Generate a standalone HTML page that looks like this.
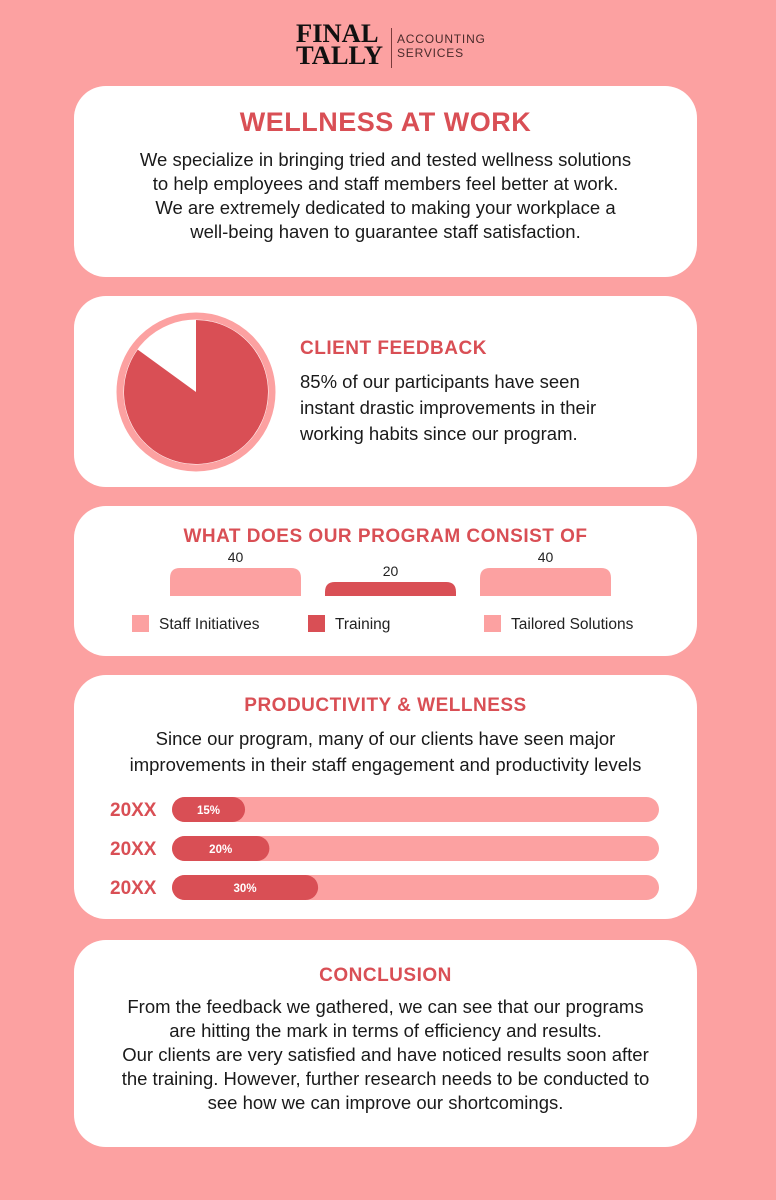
<!DOCTYPE html>
<html><head><meta charset="utf-8"><style>
*{margin:0;padding:0;box-sizing:border-box}
body{width:776px;height:1200px;background:#fca1a1;font-family:"Liberation Sans",sans-serif;position:relative;overflow:hidden;color:#1a1a1a}
.card{position:absolute;left:74px;width:623px;background:#fff;border-radius:32px}
.h{color:#d94f55;font-weight:bold;text-align:center;position:absolute;left:0;width:100%}
.p{position:absolute;text-align:center;left:0;width:100%;font-size:18.5px;line-height:24px}
</style></head><body>
<div style="position:absolute;left:296px;top:24px;width:200px;height:46px">
 <div style="position:absolute;left:0;top:-1px;font-family:'Liberation Serif',serif;font-weight:bold;font-size:26px;line-height:22px;color:#111;transform:scaleX(1.02);transform-origin:left">FINAL<br>TALLY</div>
 <div style="position:absolute;left:95px;top:4px;width:1px;height:40px;background:#7a3b3b"></div>
 <div style="position:absolute;left:101px;top:8px;font-size:12px;line-height:14px;letter-spacing:.8px;color:#4a2b2b">ACCOUNTING<br>SERVICES</div>
</div>

<div class="card" style="top:86px;height:191px">
 <div class="h" style="top:21px;font-size:27px;letter-spacing:.5px">WELLNESS AT WORK</div>
 <div class="p" style="top:62px">We specialize in bringing tried and tested wellness solutions<br>to help employees and staff members feel better at work.<br>We are extremely dedicated to making your workplace a<br>well-being haven to guarantee staff satisfaction.</div>
</div>

<div class="card" style="top:296px;height:191px">
 <svg id="pie" width="180" height="180" style="position:absolute;left:32px;top:6px"></svg>
 <div style="position:absolute;left:226px;top:42px;color:#d94f55;font-weight:bold;font-size:19px;letter-spacing:.5px">CLIENT FEEDBACK</div>
 <div style="position:absolute;left:226px;top:73px;font-size:18.5px;line-height:26px">85% of our participants have seen<br>instant drastic improvements in their<br>working habits since our program.</div>
</div>

<div class="card" style="top:506px;height:150px">
 <div class="h" style="top:20px;font-size:19px;letter-spacing:.5px">WHAT DOES OUR PROGRAM CONSIST OF</div>
 <svg id="bars" width="623" height="150" style="position:absolute;left:0;top:0"></svg>
</div>

<div class="card" style="top:675px;height:244px">
 <div class="h" style="top:20px;font-size:19px;letter-spacing:.5px">PRODUCTIVITY &amp; WELLNESS</div>
 <div class="p" style="top:51px;line-height:26px">Since our program, many of our clients have seen major<br>improvements in their staff engagement and productivity levels</div>
 <svg id="prog" width="623" height="244" style="position:absolute;left:0;top:0"></svg>
</div>

<div class="card" style="top:940px;height:207px">
 <div class="h" style="top:25px;font-size:19px;letter-spacing:.5px">CONCLUSION</div>
 <div class="p" style="top:55px">From the feedback we gathered, we can see that our programs<br>are hitting the mark in terms of efficiency and results.<br>Our clients are very satisfied and have noticed results soon after<br>the training. However, further research needs to be conducted to<br>see how we can improve our shortcomings.</div>
</div>

<script>
const pieValues=[85,15];
const programCategories=["Staff Initiatives","Training","Tailored Solutions"];
const programValues=[40,20,40];
const progressYears=["20XX","20XX","20XX"];
const progressValues=[15,20,30];

const NS="http://www.w3.org/2000/svg";
function mk(p,t,a){const e=document.createElementNS(NS,t);for(const k in a)e.setAttribute(k,a[k]);p.appendChild(e);return e;}
const RED="#d94f55",PINK="#fca1a1";

const pie=document.getElementById('pie');
const cx=90,cy=90,r=72;
const ring=mk(pie,'circle',{cx:cx,cy:cy,r:76,fill:'none',stroke:PINK,'stroke-width':7});


const total=pieValues.reduce((a,b)=>a+b,0);
const ang=pieValues[0]/total*2*Math.PI;
const x1=cx+r*Math.sin(ang),y1=cy-r*Math.cos(ang);
const sl=mk(pie,'path',{d:`M${cx},${cy} L${cx},${cy-r} A${r},${r} 0 ${ang>Math.PI?1:0} 1 ${x1},${y1} Z`,fill:RED});



const bars=document.getElementById('bars');
const baseY=90,scale=0.7,bw=131,xs0=96,gap=155;
const colors=[PINK,RED,PINK];
const legX=[58,234,410];
programValues.forEach((v,i)=>{
 const h=v*scale,x=xs0+i*gap,y=baseY-h,rr=10;
 const b=mk(bars,'path',{d:`M${x},${baseY} L${x},${y+rr} Q${x},${y} ${x+rr},${y} L${x+bw-rr},${y} Q${x+bw},${y} ${x+bw},${y+rr} L${x+bw},${baseY} Z`,fill:colors[i]});
 
 
 const t=mk(bars,'text',{x:x+bw/2,y:y-6,'text-anchor':'middle','font-size':14,fill:'#222','font-family':'Liberation Sans'});
 t.textContent=v;
 
 
 const sw=mk(bars,'rect',{x:legX[i],y:109,width:17,height:17,fill:colors[i]});
 
 
 const lt=mk(bars,'text',{x:legX[i]+27,y:123,'font-size':15.5,fill:'#222','font-family':'Liberation Sans'});
 lt.textContent=programCategories[i];
 
 
});

const prog=document.getElementById('prog');
const tx=98,tw=487,th=25,y0=122,step=39;
progressValues.forEach((v,i)=>{
 const y=y0+i*step;
 const yl=mk(prog,'text',{x:36,y:y+19,'font-size':19,'font-weight':'bold',fill:RED,'font-family':'Liberation Sans'});
 yl.textContent=progressYears[i];
 
 
 const tr=mk(prog,'rect',{x:tx,y:y,width:tw,height:th,rx:12.5,fill:PINK});
 
 
 const fw=tw*v/100;
 const f=mk(prog,'rect',{x:tx,y:y,width:fw,height:th,rx:12.5,fill:RED});
 
 
 const pt=mk(prog,'text',{x:tx+fw/2,y:y+17,'text-anchor':'middle','font-size':11.5,'font-weight':'bold',fill:'#fff','font-family':'Liberation Sans'});
 pt.textContent=v+'%';
 
 
});
</script>
</body></html>
